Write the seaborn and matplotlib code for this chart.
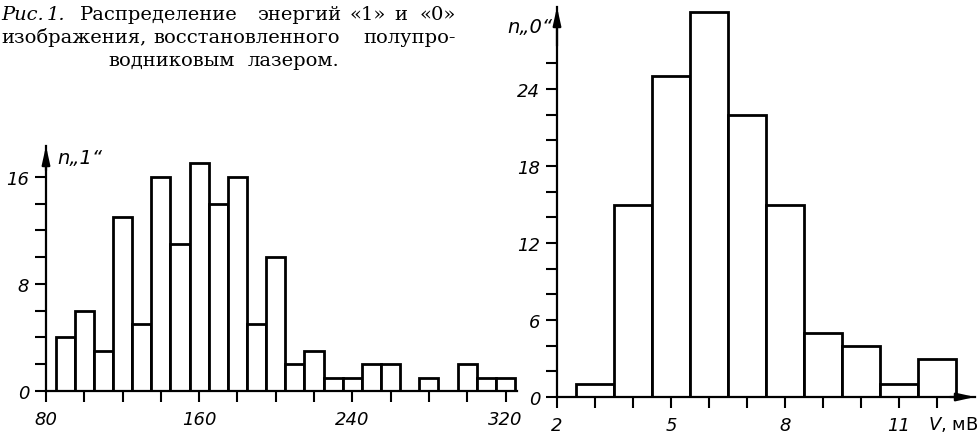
import matplotlib
matplotlib.use("Agg")
import matplotlib.pyplot as plt
import seaborn as sns

# ---------------- data ----------------
energy1_centers = [90, 100, 110, 120, 130, 140, 150, 160, 170, 180, 190, 200,
                   210, 220, 230, 240, 250, 260, 270, 280, 290, 300, 310, 320]
energy1_counts = [4, 6, 3, 13, 5, 16, 11, 17, 14, 16, 5, 10,
                  2, 3, 1, 1, 2, 2, 0, 1, 0, 2, 1, 1]
energy0_centers = [3, 4, 5, 6, 7, 8, 9, 10, 11, 12]
energy0_counts = [1, 15, 25, 30, 22, 15, 5, 4, 1, 3]

x1_major = [80, 160, 240, 320]
x1_minor = [100, 120, 140, 180, 200, 220, 260, 280, 300]
y1_major = [0, 8, 16]
y1_minor = [2, 4, 6, 10, 12, 14]
x0_major = [2, 5, 8, 11]
x0_minor = [3, 4, 6, 7, 9, 10, 12]
y0_major = [0, 6, 12, 18, 24]
y0_minor = [2, 4, 8, 10, 14, 16, 20, 22, 26]

caption_words = [
    # text, left x px, baseline y px, style
    ("Рис.", 1, 20, "italic"), ("1.", 47, 20, "italic"),
    ("Распределение", 80, 20, "normal"), ("энергий", 257, 20, "normal"),
    ("«1»", 350, 20, "normal"), ("и", 394, 20, "normal"), ("«0»", 420, 20, "normal"),
    ("изображения,", 1, 43, "normal"), ("восстановленного", 153, 43, "normal"),
    ("полупро-", 363, 43, "normal"),
    ("водниковым", 108, 66, "normal"), ("лазером.", 248, 66, "normal"),
]

# ---------------- figure ----------------
sns.set_theme(style="ticks")
plt.rcParams['font.family'] = ['DejaVu Sans']
plt.rcParams['text.color'] = 'black'

W, H = 979, 439
fig = plt.figure(figsize=(W / 100, H / 100), dpi=100)
fig.patch.set_facecolor("white")

ax1 = fig.add_axes([46 / W, 1 - 392 / H, (517 - 46) / W, (392 - 147) / H])
ax0 = fig.add_axes([557 / W, 1 - 398 / H, (975 - 557) / W, (398 - 8) / H])

sns.histplot(x=energy1_centers, weights=energy1_counts, binwidth=10, binrange=(85, 325),
             ax=ax1, color="white", edgecolor="black", linewidth=2.0, alpha=1)
sns.histplot(x=energy0_centers, weights=energy0_counts, binwidth=1, binrange=(2.5, 12.5),
             ax=ax0, color="white", edgecolor="black", linewidth=2.0, alpha=1)

ax1.set_xlim(80, 326)
ax1.set_ylim(0, 18.3)
ax0.set_xlim(2, 13)
ax0.set_ylim(0, 30.4)

tick_font = dict(fontsize=13, fontstyle="italic", color="black")

for ax, xmaj, xmin, ymaj, ymin in [(ax1, x1_major, x1_minor, y1_major, y1_minor),
                                   (ax0, x0_major, x0_minor, y0_major, y0_minor)]:
    ax.set_facecolor("white")
    ax.set_xlabel("")
    ax.set_ylabel("")
    for s in ["top", "right"]:
        ax.spines[s].set_visible(False)
    for s in ["left", "bottom"]:
        ax.spines[s].set_linewidth(1.6)
        ax.spines[s].set_color("black")
    ax.set_xticks(xmaj)
    ax.set_xticklabels([str(v) for v in xmaj], **tick_font)
    ax.set_xticks(xmin, minor=True)
    ax.set_yticks(ymaj)
    ax.set_yticklabels([str(v) for v in ymaj], **tick_font)
    ax.set_yticks(ymin, minor=True)
    ax.tick_params(which="both", direction="out", length=8, width=1.5, color="black")
    ax.tick_params(axis="x", which="both", pad=6)
    ax.tick_params(axis="y", which="both", pad=4)
    ax.annotate("", xy=(0, 1.0), xytext=(0, 0.9), xycoords="axes fraction",
                arrowprops=dict(arrowstyle="-|>,head_length=0.9,head_width=0.2",
                                color="black", lw=1.6, shrinkA=0, shrinkB=0),
                annotation_clip=False)

ax0.annotate("", xy=(1.0, 0), xytext=(0.94, 0), xycoords="axes fraction",
             arrowprops=dict(arrowstyle="-|>,head_length=0.9,head_width=0.2",
                             color="black", lw=1.6, shrinkA=0, shrinkB=0),
             annotation_clip=False)

ax1.text(0.025, 0.955, "n„1“", transform=ax1.transAxes, fontsize=14,
         fontstyle="italic", ha="left", va="center", color="black")
ax0.text(-0.012, 0.95, "n„0“", transform=ax0.transAxes, fontsize=14,
         fontstyle="italic", ha="right", va="center", color="black")
fig.text(978 / W, 1 - 430 / H, "$V$, мВ", ha="right", va="baseline", fontsize=13,
         color="black")

for word, xp, yp, style in caption_words:
    fig.text(xp / W, 1 - yp / H, word, ha="left", va="baseline", fontsize=14,
             family="DejaVu Serif", fontstyle=style, color="black")

fig.savefig("out.png", dpi=100, facecolor="white")
